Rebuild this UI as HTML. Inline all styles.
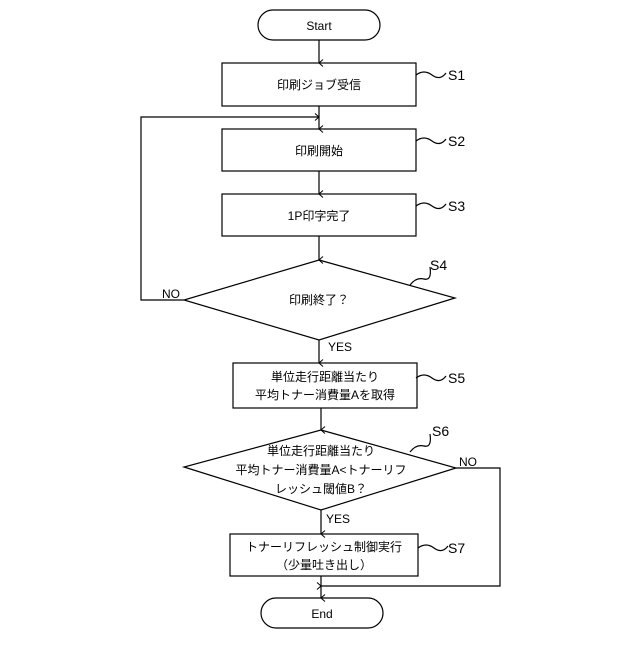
<!DOCTYPE html>
<html><head><meta charset="utf-8"><style>body{margin:0;background:#fff}</style></head><body>
<svg width="640" height="640" viewBox="0 0 640 640" xmlns="http://www.w3.org/2000/svg" font-family="Liberation Sans, Noto Sans CJK JP, sans-serif" font-size="12" fill="#000">
<defs><marker id="a" markerWidth="8" markerHeight="8" refX="4" refY="7" orient="auto-start-reverse" markerUnits="userSpaceOnUse"><path d="M0.5,3 L4,7 L7.5,3" fill="none" stroke="#000"/></marker>
<marker id="b" markerWidth="8" markerHeight="8" refX="7" refY="4" markerUnits="userSpaceOnUse"><path d="M3,0.5 L7,4 L3,7.5" fill="none" stroke="#000"/></marker></defs>
<g stroke="#000" stroke-width="1.2" fill="none">
<rect x="258" y="10" width="122" height="30" rx="15"/>
<rect x="222" y="63" width="194" height="43"/>
<rect x="222" y="129" width="194" height="42"/>
<rect x="222" y="194" width="194" height="42"/>
<polygon points="319,260 455,298 319,340 184,300"/>
<rect x="233" y="363" width="184" height="45"/>
<polygon points="321,430 456,468 321,510 184,467"/>
<rect x="230" y="534" width="188" height="42"/>
<rect x="261" y="598" width="122" height="30" rx="15"/>
<line x1="319" y1="40" x2="319" y2="63" marker-end="url(#a)"/>
<line x1="319" y1="106" x2="319" y2="129" marker-end="url(#a)"/>
<line x1="319" y1="171" x2="319" y2="194" marker-end="url(#a)"/>
<line x1="319" y1="236" x2="319" y2="260" marker-end="url(#a)"/>
<line x1="319" y1="340" x2="319" y2="363" marker-end="url(#a)"/>
<line x1="321" y1="408" x2="321" y2="430" marker-end="url(#a)"/>
<line x1="321" y1="510" x2="321" y2="534" marker-end="url(#a)"/>
<line x1="321" y1="576" x2="321" y2="598" marker-end="url(#a)"/>
<polyline points="184,300 141,300 141,117 319,117" marker-end="url(#b)"/>
<polyline points="456,468 500,468 500,586 321,586" marker-end="url(#b)" transform=""/>
<path d="M416,75 q8,-6 16,0 t14,-2"/>
<path d="M416,141 q8,-6 16,0 t14,-2"/>
<path d="M416,206 q8,-6 16,0 t14,-2"/>
<path d="M416,378 q8,-6 16,0 t14,-2"/>
<path d="M418,548 q8,-6 16,0 t14,-2"/>
<path d="M410,285 q6,-8 14,-6 t6,-12"/>
<path d="M410,452 q6,-8 14,-6 t6,-12"/>
</g>
<g text-anchor="middle">
<text x="319" y="30">Start</text>
<text x="319" y="89">印刷ジョブ受信</text>
<text x="319" y="155">印刷開始</text>
<text x="319" y="220">1P印字完了</text>
<text x="319" y="304">印刷終了？</text>
<text x="325" y="381">単位走行距離当たり</text>
<text x="325" y="399">平均トナー消費量Aを取得</text>
<text x="321" y="455">単位走行距離当たり</text>
<text x="321" y="474">平均トナー消費量A&lt;トナーリフ</text>
<text x="321" y="493">レッシュ閾値B？</text>
<text x="324" y="551">トナーリフレッシュ制御実行</text>
<text x="324" y="569">（少量吐き出し）</text>
<text x="322" y="618">End</text>
</g>
<g font-size="14">
<text x="448" y="80">S1</text><text x="448" y="146">S2</text><text x="448" y="211">S3</text>
<text x="430" y="270">S4</text><text x="448" y="383">S5</text><text x="432" y="436">S6</text><text x="448" y="553">S7</text>
</g>
<text x="162" y="298">NO</text><text x="328" y="351">YES</text><text x="459" y="466">NO</text><text x="326" y="523">YES</text>
</svg>
</body></html>
